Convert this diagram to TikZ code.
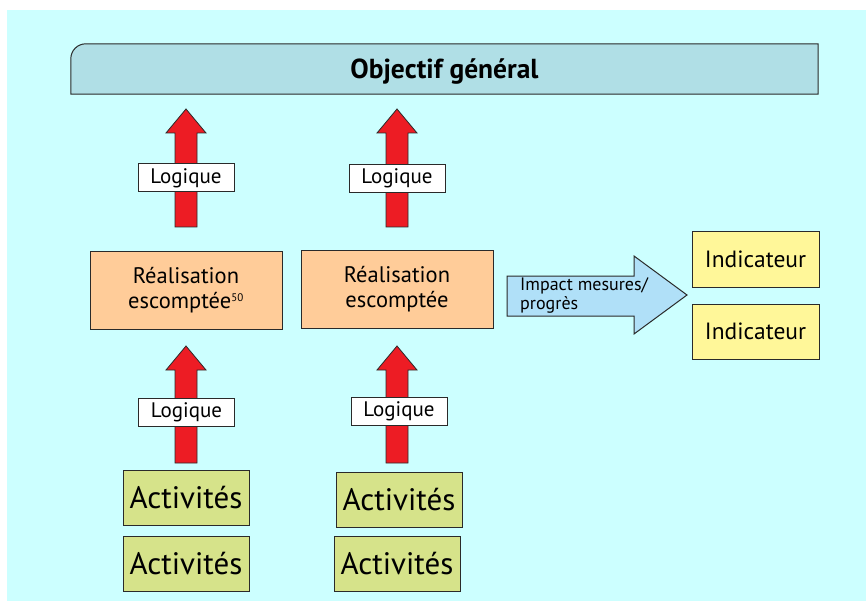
\documentclass[tikz,border=0pt]{standalone}
\usepackage{fontspec}
\setmainfont{PT Sans}
\definecolor{bgc}{HTML}{CCFFFF}
\definecolor{objc}{HTML}{B0DFE6}
\definecolor{redc}{HTML}{ED1C24}
\definecolor{realc}{HTML}{FFCC99}
\definecolor{impc}{HTML}{B0E0F8}
\definecolor{indc}{HTML}{FFF799}
\definecolor{actc}{HTML}{D6E38A}
\definecolor{linec}{HTML}{2A2A2A}
\newcommand{\blockup}[3]{%
  \fill[redc] (#1-11,#3) -- (#1-11,#2+24) -- (#1-20,#2+24) -- (#1,#2) -- (#1+20,#2+24) -- (#1+11,#2+24) -- (#1+11,#3) -- cycle;
  \draw[linec,line width=0.8pt,line join=miter] (#1-11,#3) -- (#1-11,#2+24) -- (#1-20,#2+24) -- (#1,#2) -- (#1+20,#2+24) -- (#1+11,#2+24) -- (#1+11,#3) -- cycle;}
\begin{document}
\begin{tikzpicture}[x=1pt,y=-1pt,
  box/.style={draw=linec,line width=1pt,inner sep=0pt,align=center},
  realbox/.style={box,fill=realc,minimum width=192pt,minimum height=77pt,font=\fontsize{22.5}{25}\selectfont},
  logbox/.style={box,fill=white,minimum width=96pt,minimum height=28pt,font=\fontsize{21}{22}\selectfont},
  actbox/.style={box,fill=actc,minimum width=126pt,minimum height=55pt,font=\fontsize{31}{34}\selectfont},
  indbox/.style={box,fill=indc,minimum width=127pt,minimum height=55pt,font=\fontsize{23.5}{26}\selectfont}]
\useasboundingbox (0,0) rectangle (866,601);
\fill[bgc] (7,10) rectangle (866,601);
% objective
\node[inner sep=0pt,minimum width=747pt,minimum height=50pt] (obj) at (444.5,69) {};
\draw[linec,line width=1pt,fill=objc] (obj.south west) [rounded corners=15pt]-- (obj.north west) [sharp corners]-- (obj.north east) -- (obj.south east) -- cycle;
\node[font=\bfseries\fontsize{27.5}{30}\selectfont] at ([yshift=-3pt]obj.center) {Objectif général};
% arrows
\blockup{186}{109}{227}
\blockup{397}{109}{227}
\blockup{186}{346}{463}
\blockup{397}{346}{463}
% realisations
\node[realbox] (r1) at (186,290.5) {Réalisation\\escomptée\textsuperscript{\fontsize{11}{11}\selectfont 50}};
\node[realbox] (r2) at (397,289.5) {Réalisation\\escomptée};
% logique
\node[logbox] (l1) at (186,178) {Logique};
\node[logbox] (l2) at (397,178.5) {Logique};
\node[logbox] (l3) at (186.5,412.5) {Logique};
\node[logbox] (l4) at (399,411) {Logique};
% activities
\node[actbox] (a1) at (186,497.5) {Activités};
\node[actbox] (a2) at (186,563.5) {Activités};
\node[actbox] (a3) at (399,499.5) {Activités};
\node[actbox] (a4) at (397,563.5) {Activités};
% indicators
\node[indbox] (i1) at (755.5,259.5) {Indicateur};
\node[indbox] (i2) at (755.5,331.5) {Indicateur};
% impact arrow
\draw[linec,line width=1pt,fill=impc,line join=miter] (507,276) -- (634,276) -- (634,256) -- (687,295) -- (634,334) -- (634,316) -- (507,316) -- cycle;
\node[anchor=north west,inner sep=0pt,align=left,font=\fontsize{18}{19}\selectfont] (imp) at (520,277) {Impact mesures/\\progrès};
\end{tikzpicture}
\end{document}
